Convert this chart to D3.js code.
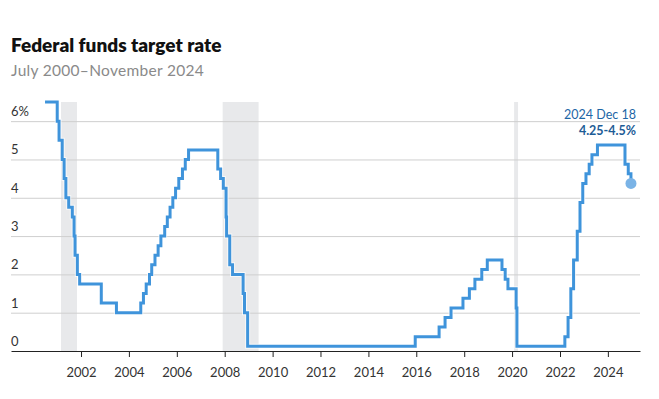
<!DOCTYPE html>
<html><head><meta charset="utf-8">
<script src="https://cdn.jsdelivr.net/npm/d3@7"></script>
<style>
body{margin:0;background:#fff;}
svg{display:block;font-family:Lato,"Open Sans",sans-serif;}
</style></head><body>
<svg id="c" width="659" height="399"></svg>
<script>
// FOMC target changes (midpoint of target range after Dec 2008)
const changeDates = ["2000-07-01","2001-01-03","2001-01-31","2001-03-20","2001-04-18","2001-05-15","2001-06-27","2001-08-21","2001-09-17","2001-10-02","2001-11-06","2001-12-11","2002-11-06","2003-06-25","2004-06-30","2004-08-10","2004-09-21","2004-11-10","2004-12-14","2005-02-02","2005-03-22","2005-05-03","2005-06-30","2005-08-09","2005-09-20","2005-11-01","2005-12-13","2006-01-31","2006-03-28","2006-05-10","2006-06-29","2007-09-18","2007-10-31","2007-12-11","2008-01-22","2008-01-30","2008-03-18","2008-04-30","2008-10-08","2008-10-29","2008-12-16","2015-12-16","2016-12-14","2017-03-15","2017-06-14","2017-12-13","2018-03-21","2018-06-13","2018-09-26","2018-12-19","2019-07-31","2019-09-18","2019-10-30","2020-03-03","2020-03-15","2022-03-16","2022-05-04","2022-06-15","2022-07-27","2022-09-21","2022-11-02","2022-12-14","2023-02-01","2023-03-22","2023-05-03","2023-07-26","2024-09-18","2024-11-07","2024-12-18"];
const rates = [6.5,6.0,5.5,5.0,4.5,4.0,3.75,3.5,3.0,2.5,2.0,1.75,1.25,1.0,1.25,1.5,1.75,2.0,2.25,2.5,2.75,3.0,3.25,3.5,3.75,4.0,4.25,4.5,4.75,5.0,5.25,4.75,4.5,4.25,3.5,3.0,2.25,2.0,1.5,1.0,0.125,0.375,0.625,0.875,1.125,1.375,1.625,1.875,2.125,2.375,2.125,1.875,1.625,1.125,0.125,0.375,0.875,1.625,2.375,3.125,3.875,4.375,4.625,4.875,5.125,5.375,4.875,4.625,4.375];
const recessionStarts = ["2001-03-01","2007-12-01","2020-02-01"];
const recessionEnds = ["2001-11-01","2009-06-01","2020-04-01"];
const yTicks = [0,1,2,3,4,5,6];
const yTickLabels = ["0","1","2","3","4","5","6%"];
const xTickYears = [2002,2004,2006,2008,2010,2012,2014,2016,2018,2020,2022,2024];
const title = "Federal funds target rate";
const subtitle = "July 2000\u2013November 2024";
const annoDate = "2024 Dec 18";
const annoValue = "4.25-4.5%";

const parse = d3.timeParse("%Y-%m-%d");
const data = changeDates.map((d,i)=>({date:parse(d), v:rates[i]}));

const svg = d3.select("#c");
const x = d3.scaleTime().domain([new Date(1999,0,29), new Date(2025,4,5)]).range([11,640]);
const y = d3.scaleLinear().domain([0,6.5]).range([351,102]);

svg.append("text").attr("x",11).attr("y",52).attr("font-size",19).attr("font-weight",800).attr("fill","#111").text(title);
svg.append("text").attr("x",11).attr("y",75.5).attr("font-size",15.5).attr("letter-spacing",0.3).attr("fill","#8a8a8a").text(subtitle);

// recession shading
svg.append("g").selectAll("rect").data(recessionStarts).join("rect")
  .attr("x",(d)=>x(parse(d)))
  .attr("width",(d,i)=>x(parse(recessionEnds[i]))-x(parse(d)))
  .attr("y",y(6.5)).attr("height",y(0)-y(6.5))
  .attr("fill","#e8e9eb");

// gridlines
const yAxis = d3.axisLeft(y).tickValues(yTicks.slice(1)).tickSize(-(640-11)).tickFormat("");
svg.append("g").attr("transform","translate(11,0)").call(yAxis)
  .call(g=>g.select(".domain").remove())
  .call(g=>g.selectAll("line").attr("stroke","#cfcfcf"));

// y labels
svg.append("g").selectAll("text").data(yTicks).join("text")
  .attr("x",11).attr("y",d=>y(d)-5)
  .attr("font-size",13).attr("fill","#333").text((d,i)=>yTickLabels[i]);

// x axis
const xAxis = d3.axisBottom(x).tickValues(xTickYears.map(yr=>new Date(yr,0,1))).tickSize(6).tickFormat(d3.timeFormat("%Y")).tickSizeOuter(0);
svg.append("g").attr("transform",`translate(0,${y(0)})`).call(xAxis)
  .call(g=>g.select(".domain").attr("stroke","#222"))
  .call(g=>g.selectAll(".tick line").attr("stroke","#222"))
  .call(g=>g.selectAll(".tick text").attr("font-size",13).attr("fill","#333").attr("dy","1.27em").attr("font-family","Lato,'Open Sans',sans-serif"));

// line
const line = d3.line().x(d=>x(d.date)).y(d=>y(d.v)).curve(d3.curveStepAfter);
svg.append("path").datum(data).attr("d",line).attr("fill","none")
  .attr("stroke","#fff").attr("stroke-width",5).attr("stroke-linejoin","miter").attr("opacity",0.7);
svg.append("path").datum(data).attr("d",line).attr("fill","none")
  .attr("stroke","#3f94db").attr("stroke-width",3).attr("stroke-linejoin","miter");

const last = data[data.length-1];
svg.append("circle").attr("cx",x(last.date)).attr("cy",y(last.v)).attr("r",5.5).attr("fill","#7ab3e6");

svg.append("text").attr("x",636).attr("y",119).attr("text-anchor","end").attr("font-size",12.5).attr("fill","#1d66a6").text(annoDate);
svg.append("text").attr("x",636).attr("y",135).attr("text-anchor","end").attr("font-size",12.5).attr("font-weight",700).attr("fill","#1d5c96").text(annoValue);
</script>
</body></html>
